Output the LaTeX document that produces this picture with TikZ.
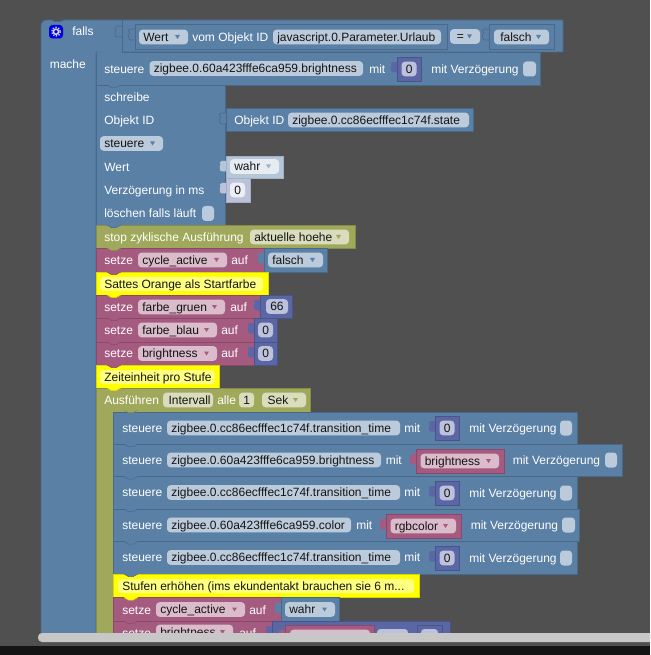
\documentclass[tikz,border=0pt]{standalone}
\usepackage{fontspec}
\setmainfont{Liberation Sans}
\definecolor{bg}{HTML}{505050}
\definecolor{bluB}{HTML}{5B80A5}\definecolor{bluD}{HTML}{49698A}\definecolor{bluF}{HTML}{BCCBDB}\definecolor{bluA}{HTML}{5B80A5}
\definecolor{magB}{HTML}{A55B80}\definecolor{magD}{HTML}{8A4969}\definecolor{magF}{HTML}{DBBCCB}\definecolor{magA}{HTML}{A55B80}
\definecolor{oliB}{HTML}{A0A95B}\definecolor{oliD}{HTML}{858D49}\definecolor{oliF}{HTML}{D9DDBD}\definecolor{oliA}{HTML}{A0A95B}
\definecolor{purB}{HTML}{5B67A5}\definecolor{purD}{HTML}{49548A}\definecolor{purF}{HTML}{BCC2DB}\definecolor{purA}{HTML}{5B67A5}
\definecolor{yelB}{HTML}{FFFF00}\definecolor{yelD}{HTML}{D8D800}\definecolor{yelF}{HTML}{FFFF80}
\definecolor{shbB}{HTML}{B5C6D6}\definecolor{shbD}{HTML}{A0B2C4}\definecolor{shbF}{HTML}{E6ECF2}\definecolor{shbA}{HTML}{9DB2C8}
\definecolor{shpB}{HTML}{BDC2DB}\definecolor{shpD}{HTML}{A6ACCB}\definecolor{shpF}{HTML}{ECEEF5}
\newcounter{tn}
\tikzset{
  wtext/.style={anchor=base west,inner sep=0pt,text=white,font=\fontsize{9}{11}\selectfont},
  dtext/.style={anchor=base west,inner sep=0pt,text=black!92,font=\fontsize{9}{11}\selectfont},
}
% block: colour prefix, x1,y1,x2,y2
\newcommand\blk[5]{\filldraw[fill=#1B,draw=#1D,line width=.6pt] (#2,#3) rectangle (#4,#5);}
% tab hanging under a stacked block
\newcommand\tab[3]{\fill[#1B] (#2+11,#3-.3) -- (#2+15.5,#3+2.6) -- (#2+20,#3+2.6) -- (#2+25,#3-.3) -- cycle;\draw[#1D,line width=.4pt] (#2+11,#3) -- (#2+15.5,#3+2.6) -- (#2+20,#3+2.6) -- (#2+25,#3);}
% puzzle connector left of an input block: colour, x (block edge), y (block top)
\newcommand\puz[3]{\fill[#1B] (#2+.5,#3+5) -- (#2-4,#3+5) .. controls (#2-6.5,#3+5) and (#2-7,#3+7) .. (#2-5.5,#3+8.5) .. controls (#2-7,#3+11) and (#2-6.5,#3+15.5) .. (#2-4,#3+15.5) -- (#2+.5,#3+15.5) -- cycle;}
% white label: x, y centre, text
\newcommand\wt[3]{\stepcounter{tn}\node[wtext] (t\thetn) at (#1,#2+4.2) {#3};}
% field: colour, x1, x2, y centre, text
\newcommand\fld[5]{\fill[#1F,rounded corners=2.6pt] (#2,#4-7.3) rectangle (#3,#4+7.3);\stepcounter{tn}\node[dtext] (t\thetn) at (#2+4,#4+4.2) {#5};}
% dropdown field: same, with arrow
\newcommand\dfld[5]{\fld{#1}{#2}{#3}{#4}{#5}\fill[#1A] (#3-13,#4-2) -- (#3-8,#4-2) -- (#3-10.5,#4+2) -- cycle;}
\newcommand\chk[3]{\fill[bluF,rounded corners=2.6pt] (#1,#2-7.5) rectangle (#3,#2+7.5);}
% one inner "steuere" row: y top, right edge, field right edge, id, mit x
\newcommand\steuere[5]{\blk{blu}{113}{#1}{#2}{#1+32.5}\wt{122}{#1+16}{steuere}\fld{blu}{167}{#3}{#1+16}{#4}\wt{#5}{#1+16}{mit}}
% number value block with 0
\newcommand\zero[2]{\puz{pur}{#1}{#2}\blk{pur}{#1}{#2}{#1+24.5}{#2+24}\fld{pur}{#1+4.5}{#1+19.5}{#2+12}{0}}
\newcommand\magval[5]{\puz{mag}{#1}{#2}\blk{mag}{#1}{#2}{#3}{#2+24}\dfld{mag}{#1+4.5}{#4}{#2+12}{#5}}
\begin{document}
\begin{tikzpicture}[x=.75pt,y=-.75pt]
\useasboundingbox (0,0) rectangle (650,655);
\clip (0,0) rectangle (650,655);
\fill[bg] (0,0) rectangle (650,655);
% outer "falls" block
\filldraw[fill=bluB,draw=bluD,line width=.6pt] (41,645) -- (41,27) .. controls (41,22) and (43,20) .. (48,20) -- (563,20) -- (563,52) -- (96,52) -- (96,645) -- cycle;
\fill[bg] (51,19.5) -- (55,21.5) -- (60,21.5) -- (65,19.5) -- cycle;
\draw[bluD,line width=.4pt] (51,20) -- (55,21.5) -- (60,21.5) -- (65,20);
\fill[blue!85!black,rounded corners=2.5pt] (49,25) rectangle (63,38.5);
\draw[white!85!blue,line width=1.1pt] (56,31.7) circle (2.6);
\draw[white!85!blue,line width=.9pt,dash pattern=on 1pt off 1.1pt] (56,31.7) circle (4.4);
\wt{72}{31.5}{falls}
\wt{49.5}{64}{mache}
% falls input
\draw[bluD,line width=.5pt] (122,52) -- (122,20);
\draw[bluD,line width=.5pt] (122,26) -- (118,26) .. controls (115,26) and (114,28) .. (116,31) .. controls (114,34) and (115,37) .. (118,37) -- (122,37);
\puz{blu}{135}{24}
\blk{blu}{135}{24}{447}{49}
\draw[bluD,line width=.5pt] (135,29) -- (131,29) .. controls (128,29) and (128,32) .. (129.5,33) .. controls (128,35) and (128,40) .. (131,40) -- (135,40);
\dfld{blu}{139}{188}{37}{Wert}
\wt{192}{37}{vom Objekt ID}
\fld{blu}{273}{441}{37}{javascript.0.Parameter.Urlaub}
\dfld{blu}{450}{480}{36.5}{\hspace*{2pt}=}
\puz{blu}{489}{24}
\blk{blu}{489}{24}{554}{49}
\draw[bluD,line width=.5pt] (489,29) -- (485,29) .. controls (482,29) and (482,32) .. (483.5,33) .. controls (482,35) and (482,40) .. (485,40) -- (489,40);
\dfld{blu}{494}{549}{37}{\hspace*{1.5pt}falsch}
% steuere brightness
\blk{blu}{96}{52.5}{540}{85}
\fill[bluB] (96.5,51.5) -- (107,51.5) -- (111,50) -- (118,50) -- (122,51.5) -- (122,54) -- (96.5,54) -- cycle;
\wt{104}{69}{steuere}
\fld{blu}{149.5}{363}{68.5}{zigbee.0.60a423fffe6ca959.brightness}
\wt{369}{69}{mit}
\zero{397}{57}
\wt{431}{69}{mit Verzögerung}
\chk{523}{69}{536}
% schreibe
\blk{blu}{96}{85}{225}{225}
\tab{blu}{96}{85}
\wt{104}{97}{schreibe}
\wt{104}{120}{Objekt ID}
\dfld{blu}{100}{163}{143.5}{steuere}
\wt{104}{167}{Wert}
\wt{104}{190}{Verzögerung in ms}
\wt{104}{213}{löschen falls läuft}
\chk{202}{213.5}{214}
\puz{blu}{226}{108}
\blk{blu}{226}{108}{473.5}{131}
\draw[bluD,line width=.5pt] (226,113) -- (222,113) .. controls (219,113) and (219,116) .. (220.5,117) .. controls (219,119) and (219,124) .. (222,124) -- (226,124);
\wt{234}{120}{Objekt ID}
\fld{blu}{288}{469}{120}{zigbee.0.cc86ecfffec1c74f.state}
\puz{shb}{226}{156}
\blk{shb}{226}{156}{283}{178}
\dfld{shb}{230}{279}{166.5}{wahr}
\puz{shp}{226}{178}
\blk{shp}{226}{178}{250}{202}
\fld{shp}{230}{245}{190}{0}
% stop
\blk{oli}{96}{225}{355}{248}
\tab{blu}{96}{225}
\wt{104}{237}{stop zyklische Ausführung}
\dfld{oli}{250}{349}{237}{aktuelle hoehe}
% setze cycle_active
\blk{mag}{96}{248}{264}{272}
\tab{oli}{96}{248}
\wt{104}{260}{setze}
\dfld{mag}{138}{227}{260}{cycle\_active}
\wt{231}{260}{auf}
\puz{blu}{264}{248}
\blk{blu}{264}{248}{327}{272}
\dfld{blu}{268}{323}{260}{falsch}
% comment
\blk{yel}{96}{272}{268}{295}
\tab{mag}{96}{272}
\fill[yelF,rounded corners=2.6pt] (100,277) rectangle (263,291);
\node[dtext] (c1) at (104,288) {Sattes Orange als Startfarbe};
% setze farbe_gruen
\blk{mag}{96}{295}{260}{318}
\tab{yel}{96}{295}
\wt{104}{307}{setze}
\dfld{mag}{138}{225}{307}{farbe\_gruen}
\wt{230}{307}{auf}
\puz{pur}{260}{295}
\blk{pur}{260}{295}{292.5}{318}
\fld{pur}{266}{288}{306.5}{66}
% setze farbe_blau
\blk{mag}{96}{318}{254}{342}
\tab{mag}{96}{318}
\wt{104}{330}{setze}
\dfld{mag}{138}{217}{330}{farbe\_blau}
\wt{221}{330}{auf}
\puz{pur}{254}{318}
\blk{pur}{254}{318}{277}{342}
\fld{pur}{258}{273}{330}{0}
% setze brightness
\blk{mag}{96}{342}{254}{365}
\tab{mag}{96}{342}
\wt{104}{353.5}{setze}
\dfld{mag}{138}{217}{353.5}{brightness}
\wt{221}{353.5}{auf}
\puz{pur}{254}{342}
\blk{pur}{254}{342}{277}{365}
\fld{pur}{258}{273}{353.5}{0}
% comment 2
\blk{yel}{96}{365}{219.5}{388}
\tab{mag}{96}{365}
\fill[yelF,rounded corners=2.6pt] (100,370) rectangle (215,384);
\node[dtext] (c2) at (104,381) {Zeiteinheit pro Stufe};
% Ausführen
\filldraw[fill=oliB,draw=oliD,line width=.6pt] (96,645) -- (96,388) -- (310,388) -- (310,412) -- (113,412) -- (113,645) -- cycle;
\tab{yel}{96}{388}
\wt{104}{400}{Ausführen}
\fld{oli}{163}{213}{400}{\hspace*{1pt}Intervall}
\wt{217}{400}{alle}
\fld{oli}{239}{254}{400}{1}
\dfld{oli}{262}{306}{400}{\hspace*{1pt}Sek}
% inner rows
\steuere{412}{577}{400}{zigbee.0.cc86ecfffec1c74f.transition\_time}{404}
\tab{oli}{113}{410}
\zero{435}{416}
\wt{469}{428}{mit Verzögerung}
\chk{560}{428}{572}
\steuere{444}{622}{381}{zigbee.0.60a423fffe6ca959.brightness}{385.5}
\tab{blu}{113}{444}
\magval{416}{449}{504}{499}{brightness}
\wt{512.5}{460}{mit Verzögerung}
\chk{605}{460}{617}
\steuere{476.5}{577}{400}{zigbee.0.cc86ecfffec1c74f.transition\_time}{404}
\tab{blu}{113}{476.5}
\zero{435}{481}
\wt{469}{493}{mit Verzögerung}
\chk{560}{493}{572}
\steuere{509}{579}{351}{zigbee.0.60a423fffe6ca959.color}{356}
\tab{blu}{113}{509}
\magval{386}{514}{461}{456}{rgbcolor}
\wt{470.5}{525}{mit Verzögerung}
\chk{562}{525}{575}
\steuere{541.5}{577}{400}{zigbee.0.cc86ecfffec1c74f.transition\_time}{404}
\tab{blu}{113}{541.5}
\zero{435}{546}
\wt{469}{558}{mit Verzögerung}
\chk{560}{558}{572}
% comment 3
\blk{yel}{113}{574}{419}{597.5}
\tab{blu}{113}{574}
\fill[yelF,rounded corners=2.6pt] (118,579) rectangle (414,593);
\node[dtext] (c3) at (122,590) {Stufen erhöhen (ims ekundentakt brauchen sie 6 m...};
% setze cycle_active 2
\blk{mag}{113}{597.5}{281}{621}
\tab{yel}{113}{597.5}
\wt{122}{610}{setze}
\dfld{mag}{156}{245}{609.5}{cycle\_active}
\wt{249}{610}{auf}
\puz{blu}{281}{597.5}
\blk{blu}{281}{597.5}{339}{621}
\dfld{blu}{285}{335}{609.5}{wahr}
% setze brightness 2
\blk{mag}{113}{621}{272}{648}
\tab{mag}{113}{621}
\wt{122}{633}{setze}
\dfld{mag}{156}{233}{632}{brightness}
\wt{239}{633}{auf}
\puz{pur}{272}{621}
\blk{pur}{272}{621}{450}{648}
\puz{mag}{285}{625}
\blk{mag}{285}{625}{374}{648}
\fld{mag}{290}{370}{637}{}
\fill[purF,rounded corners=2.6pt] (377,629) rectangle (408,645);
\puz{pur}{417}{625}
\blk{pur}{417}{625}{442}{648}
\fill[purF,rounded corners=2.6pt] (421,629) rectangle (438,645);
% scrollbar and page edge
\fill[bg] (0,642) rectangle (650,646);
\fill[black!92] (0,646) rectangle (650,655);
\fill[black!22,rounded corners=3pt] (38,633) rectangle (670,642);
\end{tikzpicture}
\end{document}
